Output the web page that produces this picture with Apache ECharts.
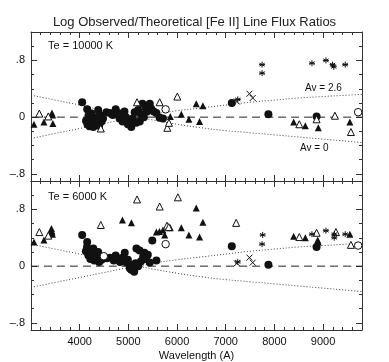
<!DOCTYPE html>
<html>
<head>
<meta charset="utf-8">
<script src="https://cdn.jsdelivr.net/npm/echarts@6/dist/echarts.min.js"></script>
<style>
  html, body { margin: 0; padding: 0; background: #fff; }
  #chart { width: 389px; height: 362px; }
</style>
</head>
<body>
<div id="chart"></div>
<script>
// wavelength ticks and y ticks
const xTicks = [4000, 5000, 6000, 7000, 8000, 9000]
const yMajor = [-0.8, 0, 0.8]
const yMinor = [-0.6, -0.4, -0.2, 0.2, 0.4, 0.6, 1.0]

// model curves, same in both panels
const curveAv0 = [[3000, 0.31], [3500, 0.24], [4000, 0.17], [4500, 0.09], [5000, 0.03], [5200, 0.0], [5500, -0.04], [6000, -0.10], [6500, -0.15], [7000, -0.19], [7500, -0.22], [8000, -0.25], [8500, -0.28], [9000, -0.31], [9500, -0.34], [9800, -0.36]]
const curveAv26 = [[3000, -0.30], [3500, -0.23], [4000, -0.16], [4500, -0.09], [5000, -0.02], [5200, 0.0], [5500, 0.04], [6000, 0.09], [6500, 0.13], [7000, 0.17], [7500, 0.21], [8000, 0.24], [8500, 0.27], [9000, 0.29], [9500, 0.31], [9800, 0.32]]
const zeroLine = [[3000, 0], [9800, 0]]

// Te = 10000 K panel
const topCircles = [[4051, 0.21], [4154, 0.11], [4130, -0.05], [4160, -0.10], [4180, 0.02], [4200, -0.13], [4220, -0.05], [4240, 0.05], [4260, -0.08], [4280, -0.14], [4300, 0.0], [4320, -0.10], [4350, -0.04], [4380, 0.10], [4400, -0.12], [4420, 0.03], [4450, -0.06], [4480, -0.02], [4550, 0.07], [4620, 0.06], [4680, 0.03], [4740, 0.11], [4790, 0.06], [4820, -0.02], [4850, 0.03], [4880, -0.06], [4920, 0.08], [4950, 0.0], [4990, -0.10], [5030, -0.06], [5060, -0.14], [5090, -0.02], [5130, 0.07], [5160, -0.08], [5200, 0.10], [5234, -0.06], [5260, 0.04], [5290, 0.19], [5320, 0.0], [5357, 0.13], [5380, 0.08], [5410, 0.16], [5440, 0.19], [5470, 0.12], [5520, 0.08], [5576, 0.06], [5643, -0.01], [5711, -0.02], [7125, 0.20], [7877, 0.04], [8867, 0.01]]
const topTriFilled = [[3061, -0.10], [3266, -0.07], [3430, 0.06], [3444, 0.03], [3450, -0.09], [5862, 0.01], [6088, 0.04], [6244, -0.03], [6395, 0.19], [6531, 0.16], [6463, -0.06], [8396, -0.07], [8635, -0.12], [8902, -0.15], [9551, -0.07]]
const topTriOpen = [[3171, 0.05], [3355, 0.01], [4434, -0.16], [5178, 0.21], [5643, 0.21], [5801, -0.15], [5834, -0.08], [6006, 0.29], [8512, -0.10], [8867, -0.03], [9244, 0.02], [9572, -0.21]]
const topCircOpen = [[5766, 0.11], [9721, 0.07]]
const topStars = [[7248, 0.25], [7747, 0.74], [7747, 0.62], [8772, 0.76], [9059, 0.80], [9195, 0.74], [9220, 0.71], [9455, 0.74]]
const topCrosses = [[7230, 0.22], [7488, 0.33], [7555, 0.27]]

// Te = 6000 K panel
const botCircles = [[4051, 0.44], [4154, 0.34], [4127, 0.21], [4150, 0.27], [4180, 0.15], [4200, 0.22], [4220, 0.10], [4240, 0.18], [4260, 0.13], [4280, 0.25], [4300, 0.08], [4320, 0.16], [4350, 0.11], [4380, 0.20], [4400, 0.06], [4420, 0.14], [4450, 0.09], [4550, 0.11], [4620, 0.12], [4700, 0.08], [4740, 0.15], [4790, 0.10], [4830, 0.06], [4880, 0.12], [4926, 0.19], [4960, 0.05], [4990, 0.09], [5030, -0.03], [5060, -0.05], [5090, 0.02], [5120, -0.08], [5150, 0.04], [5166, 0.25], [5200, 0.0], [5230, 0.22], [5260, 0.07], [5303, 0.13], [5330, 0.19], [5360, 0.10], [5400, 0.16], [5440, 0.05], [5492, 0.36], [5576, 0.08], [7125, 0.28], [7877, 0.02], [8867, 0.27]]
const botTriFilled = [[3061, 0.34], [3266, 0.37], [3420, 0.53], [3430, 0.48], [3440, 0.45], [3425, 0.50], [4878, 0.65], [5063, 0.61], [5576, 0.48], [5640, 0.49], [5711, 0.51], [5746, 0.44], [5862, 0.54], [6088, 0.54], [6244, 0.44], [6395, 0.82], [6531, 0.62], [6463, 0.41], [8396, 0.42], [8635, 0.40], [8902, 0.34], [8890, 0.37], [9551, 0.45]]
const botTriOpen = [[3171, 0.48], [3355, 0.43], [4434, 0.58], [5178, 0.94], [5643, 0.84], [5793, 0.57], [5830, 0.55], [6018, 0.97], [7215, 0.61], [8512, 0.41], [8867, 0.47], [9264, 0.48], [9572, 0.30]]
const botCircOpen = [[4496, 0.14], [5766, 0.31], [9721, 0.29]]
const botStars = [[7248, 0.06], [7760, 0.44], [7747, 0.31], [8772, 0.45], [9059, 0.50], [9230, 0.45], [9230, 0.40], [9455, 0.45]]
const botCrosses = [[7230, 0.04], [7488, 0.12], [7555, 0.05]]

const INK = '#111'
const FONT = 'Liberation Sans, Arial, sans-serif'
const STAR = 'path://M0,-1L0,1M-0.87,-0.5L0.87,0.5M-0.87,0.5L0.87,-0.5M-1,0L1,0'
const CROSS = 'path://M-1,-1L1,1M-1,1L1,-1'

const yLabel = v => {
  if (Math.abs(v) < 1e-9) return '0'
  return (v < 0 ? '–' : '') + '.' + Math.round(Math.abs(v) * 10)
}

const makeX = (grid, position, showLabel) => ({
  type: 'value',
  gridIndex: grid,
  position: position,
  min: 3000,
  max: 9800,
  interval: 1000,
  splitLine: { show: false },
  axisLine: { show: true, onZero: false, lineStyle: { color: '#333', width: 1 } },
  axisTick: { show: true, inside: true, length: 6, lineStyle: { color: '#333' } },
  minorTick: { show: true, splitNumber: 5, length: 3, lineStyle: { color: '#333' } },
  axisLabel: {
    show: showLabel,
    customValues: xTicks,
    formatter: v => String(v),
    color: INK,
    fontSize: 11,
    fontFamily: FONT,
    margin: 6
  },
  name: showLabel ? 'Wavelength (A)' : '',
  nameLocation: 'middle',
  nameGap: 20,
  nameTextStyle: { color: INK, fontSize: 11, fontFamily: FONT }
})

const makeY = (grid, position, major) => ({
  type: 'value',
  gridIndex: grid,
  position: position,
  min: -0.9,
  max: 1.2,
  splitLine: { show: false },
  axisLine: { show: major, onZero: false, lineStyle: { color: '#333', width: 1 } },
  axisTick: {
    show: true,
    inside: true,
    length: major ? 6 : 3,
    customValues: major ? yMajor : yMinor,
    lineStyle: { color: '#333' }
  },
  axisLabel: {
    show: major && position === 'left',
    customValues: yMajor,
    formatter: yLabel,
    color: INK,
    fontSize: 11,
    fontFamily: FONT,
    margin: 6
  }
})

const scatter = (data, xi, yi, symbol, size, filled) => ({
  type: 'scatter',
  xAxisIndex: xi,
  yAxisIndex: yi,
  data: data,
  symbol: symbol,
  symbolSize: size,
  itemStyle: filled
    ? { color: INK, borderColor: INK, borderWidth: 0, opacity: 1 }
    : { color: filled === null ? 'transparent' : '#fff', borderColor: INK, borderWidth: 1, opacity: 1 },
  z: 5
})

const line = (data, xi, yi, type, color) => ({
  type: 'line',
  xAxisIndex: xi,
  yAxisIndex: yi,
  data: data,
  smooth: true,
  symbol: 'none',
  lineStyle: { color: color, width: 1, type: type },
  z: 2
})

const panelSeries = (xi, yi, circles, triF, triO, circO, stars, crosses) => [
  line(zeroLine, xi, yi, [8, 5], '#222'),
  line(curveAv0, xi, yi, [1, 2], '#444'),
  line(curveAv26, xi, yi, [1, 2], '#444'),
  scatter(circles, xi, yi, 'circle', 8, true),
  scatter(triF, xi, yi, 'triangle', 7, true),
  scatter(triO, xi, yi, 'triangle', 7, false),
  scatter(circO, xi, yi, 'circle', 7.5, false),
  scatter(stars, xi, yi, STAR, 6, null),
  scatter(crosses, xi, yi, CROSS, 6, null)
]

const chart = echarts.init(document.getElementById('chart'), null, { renderer: 'canvas' })

chart.setOption({
  backgroundColor: '#fff',
  animation: false,
  title: {
    text: 'Log Observed/Theoretical [Fe II] Line Flux Ratios',
    left: 'center',
    top: 11,
    textStyle: { color: '#222', fontSize: 13, fontWeight: 'normal', fontFamily: FONT }
  },
  grid: [
    { left: 31, right: 27, top: 32, height: 149 },
    { left: 31, right: 27, top: 181, height: 149 }
  ],
  xAxis: [
    makeX(0, 'bottom', false),
    makeX(0, 'top', false),
    makeX(1, 'bottom', true),
    makeX(1, 'top', false)
  ],
  yAxis: [
    makeY(0, 'left', true),
    makeY(0, 'left', false),
    makeY(0, 'right', true),
    makeY(0, 'right', false),
    makeY(1, 'left', true),
    makeY(1, 'left', false),
    makeY(1, 'right', true),
    makeY(1, 'right', false)
  ],
  graphic: [
    { type: 'text', left: 48, top: 40, style: { text: 'Te = 10000 K', fill: INK, font: '11px ' + FONT } },
    { type: 'text', left: 48, top: 191, style: { text: 'Te = 6000 K', fill: INK, font: '11px ' + FONT } },
    { type: 'text', left: 305, top: 83, style: { text: 'Av = 2.6', fill: INK, font: '10px ' + FONT } },
    { type: 'text', left: 300, top: 143, style: { text: 'Av = 0', fill: INK, font: '10px ' + FONT } }
  ],
  series: [
    ...panelSeries(0, 0, topCircles, topTriFilled, topTriOpen, topCircOpen, topStars, topCrosses),
    ...panelSeries(2, 4, botCircles, botTriFilled, botTriOpen, botCircOpen, botStars, botCrosses)
  ]
})

window.addEventListener('resize', () => {
  chart.resize()
})
</script>
</body>
</html>
